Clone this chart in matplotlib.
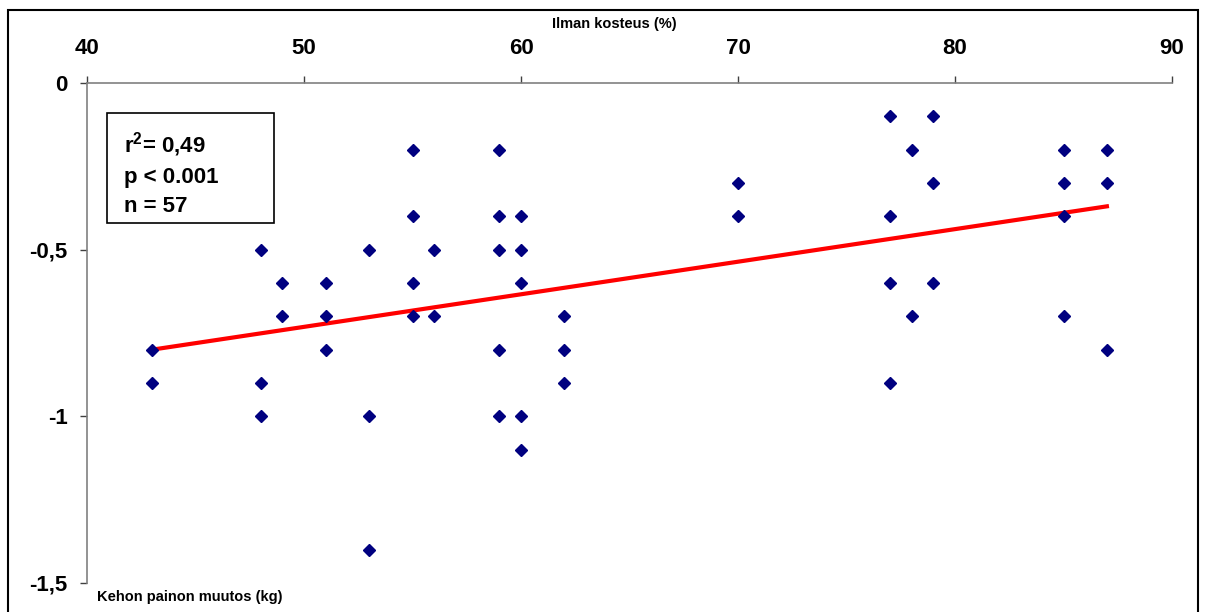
import matplotlib.pyplot as plt
from matplotlib.patches import Rectangle

# Ilman kosteus (%) ja kehon painon muutos (kg)
humidity = [43, 43,
            48, 48, 48,
            49, 49,
            51, 51, 51,
            53, 53, 53,
            55, 55, 55, 55,
            56, 56,
            59, 59, 59, 59, 59,
            60, 60, 60, 60, 60,
            62, 62, 62,
            70, 70,
            77, 77, 77, 77,
            78, 78,
            79, 79, 79,
            85, 85, 85, 85,
            87, 87, 87]
weight_change = [-0.8, -0.9,
                 -0.5, -0.9, -1.0,
                 -0.6, -0.7,
                 -0.6, -0.7, -0.8,
                 -0.5, -1.0, -1.4,
                 -0.2, -0.4, -0.6, -0.7,
                 -0.5, -0.7,
                 -0.2, -0.4, -0.5, -0.8, -1.0,
                 -0.4, -0.5, -0.6, -1.0, -1.1,
                 -0.7, -0.8, -0.9,
                 -0.3, -0.4,
                 -0.1, -0.4, -0.6, -0.9,
                 -0.2, -0.7,
                 -0.1, -0.3, -0.6,
                 -0.2, -0.3, -0.4, -0.7,
                 -0.2, -0.3, -0.8]

# regressiosuora
trend_x = [43, 87]
trend_y = [-0.80, -0.37]

x_ticks = [40, 50, 60, 70, 80, 90]
y_ticks = [0, -0.5, -1, -1.5]
y_tick_labels = ['0', '-0,5', '-1', '-1,5']
stats_lines = [r"r$^{\mathbf{2}}$= 0,49", "p < 0.001", "n = 57"]

plt.rcParams['font.family'] = ['Liberation Sans', 'DejaVu Sans']
plt.rcParams['font.weight'] = 'bold'
plt.rcParams['mathtext.fontset'] = 'custom'
plt.rcParams['mathtext.bf'] = 'Liberation Sans:bold'
plt.rcParams['mathtext.rm'] = 'Liberation Sans:bold'

fig = plt.figure(figsize=(12.08, 6.12), dpi=100)
ax = fig.add_axes([87/1208, 1 - 583/612, (1172-87)/1208, 500/612])

ax.plot(humidity, weight_change, 'D', color='#000080', markersize=6, zorder=3)
ax.plot(trend_x, trend_y, color='#ff0000', linewidth=3, zorder=2)

ax.set_xlim(40, 90)
ax.set_ylim(-1.5, 0)
ax.set_xticks(x_ticks)
ax.set_yticks(y_ticks)
ax.set_yticklabels(y_tick_labels)

ax.xaxis.tick_top()
for side in ['right', 'bottom']:
    ax.spines[side].set_visible(False)
for side in ['left', 'top']:
    ax.spines[side].set_color('#808080')
    ax.spines[side].set_linewidth(1.2)
ax.tick_params(axis='x', direction='out', length=5, width=1, color='#404040',
               labelsize=16, pad=12)
ax.tick_params(axis='y', direction='out', length=5, width=1, color='#404040',
               labelsize=16, pad=9)
for lbl in ax.get_xticklabels() + ax.get_yticklabels():
    lbl.set_fontweight('bold')

fig.text(614/1208, 1 - 24/612, 'Ilman kosteus (%)', ha='center', va='center',
         fontsize=10.5, fontweight='bold')
fig.text(97/1208, 1 - 597/612, 'Kehon painon muutos (kg)', ha='left', va='center',
         fontsize=10.5, fontweight='bold')

# tilastolaatikko
fig.patches.append(Rectangle((107/1208, 1 - 223/612), 167/1208, 110/612,
                             transform=fig.transFigure, fill=False,
                             edgecolor='black', linewidth=1.2))
for line, ypx in zip(stats_lines, [145, 177, 207]):
    fig.text(124/1208, 1 - ypx/612, line, ha='left', va='center',
             fontsize=16, fontweight='bold')

# kehys koko kuvan ympärillä
fig.patches.append(Rectangle((8/1208, -0.05), 1190/1208, 1.05 - 10/612,
                             transform=fig.transFigure, fill=False,
                             edgecolor='black', linewidth=1.5))

plt.savefig('out.png', dpi=100)
